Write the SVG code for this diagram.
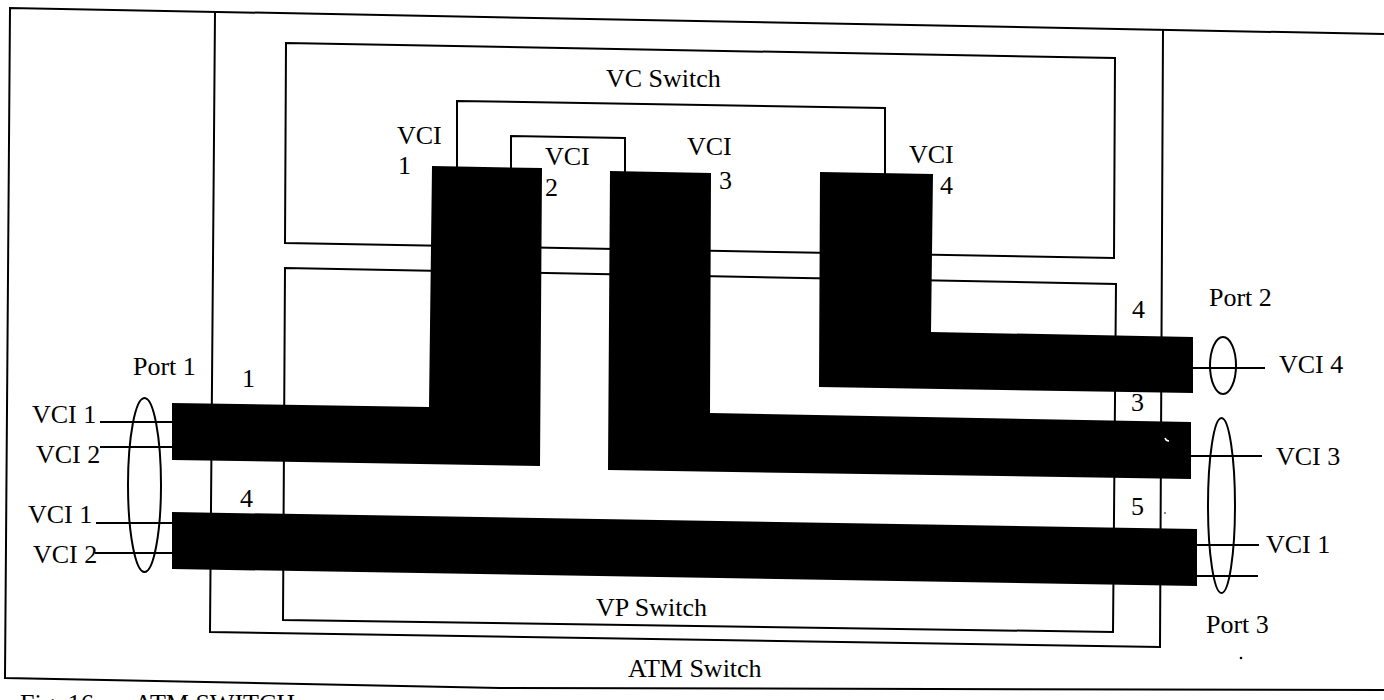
<svg xmlns="http://www.w3.org/2000/svg" width="1384" height="700" viewBox="0 0 1384 700">
<style>
.ln{fill:none;stroke:#000;stroke-width:2;stroke-linejoin:miter}
.bar{fill:#000;stroke:none}
.t{font-family:"Liberation Serif","Times New Roman",serif;font-size:26px;fill:#000}
</style>
<rect x="0" y="0" width="1384" height="700" fill="#fff"/>
<g id="outer-frame">
<polyline class="ln" points="1384,34 10,8 5,678 500,688 1384,690"/>
</g>
<g id="atm-switch">
<polyline class="ln" points="215,12 210,632 1160,647 1163,30"/>
<text class="t" x="628" y="677">ATM Switch</text>
</g>
<g id="vc-switch">
<polygon class="ln" points="286,43 1115,58 1114,258 285,243"/>
<text class="t" x="606" y="87">VC Switch</text>
</g>
<g id="vp-switch">
<polygon class="ln" points="285,268 1116,284 1113,632 283,620"/>
<text class="t" x="596" y="616">VP Switch</text>
</g>
<g id="connectors">
<polyline class="ln" points="457,168 457,101 885,108 885,174"/>
<polyline class="ln" points="511,168 511,136 625,138 625,172"/>
<polygon class="bar" points="432,166 542,168 540,466 172,460 172,403 429,407"/>
<polygon class="bar" points="610,171 711,173 710,413 1191,422 1191,479 608,470"/>
<polygon class="bar" points="820,172 933,174 931,332 1193,337 1193,393 819,387"/>
<polygon class="bar" points="172,512 1197,529 1197,586 172,569"/>
<path d="M1165,438 q1,3 4,3" fill="none" stroke="#fff" stroke-width="1.5"/>
<line class="ln" x1="100" y1="422" x2="172" y2="422"/>
<line class="ln" x1="100" y1="447" x2="172" y2="447"/>
<line class="ln" x1="96" y1="523" x2="172" y2="523"/>
<line class="ln" x1="95" y1="553" x2="172" y2="553"/>
<line class="ln" x1="1193" y1="368" x2="1265" y2="368"/>
<line class="ln" x1="1191" y1="456" x2="1262" y2="456"/>
<line class="ln" x1="1197" y1="545" x2="1259" y2="545"/>
<line class="ln" x1="1197" y1="576" x2="1258" y2="576"/>
</g>
<g id="port1">
<ellipse class="ln" cx="144.5" cy="485" rx="16.5" ry="87"/>
<text class="t" x="133" y="375">Port 1</text>
<text class="t" x="32" y="423">VCI 1</text>
<text class="t" x="36" y="463">VCI 2</text>
<text class="t" x="28" y="523">VCI 1</text>
<text class="t" x="33" y="563">VCI 2</text>
</g>
<g id="port2">
<ellipse class="ln" cx="1223" cy="365.5" rx="13" ry="28.5"/>
<text class="t" x="1209" y="306">Port 2</text>
<text class="t" x="1279" y="373">VCI 4</text>
</g>
<g id="port3">
<ellipse class="ln" cx="1221.5" cy="505.5" rx="13.5" ry="87.5"/>
<text class="t" x="1276" y="465">VCI 3</text>
<text class="t" x="1266" y="553">VCI 1</text>
<text class="t" x="1206" y="633">Port 3</text>
</g>
<g id="labels">
<text class="t" x="397" y="144">VCI</text>
<text class="t" x="398" y="174">1</text>
<text class="t" x="545" y="165">VCI</text>
<text class="t" x="545" y="196">2</text>
<text class="t" x="687" y="155">VCI</text>
<text class="t" x="719" y="189">3</text>
<text class="t" x="909" y="163">VCI</text>
<text class="t" x="940" y="194">4</text>
<text class="t" x="242" y="387">1</text>
<text class="t" x="240" y="507">4</text>
<text class="t" x="1132" y="318">4</text>
<text class="t" x="1131" y="411">3</text>
<text class="t" x="1131" y="515">5</text>
<circle cx="1241" cy="658" r="1.3" fill="#000"/>
<circle cx="1165" cy="513" r="0.8" fill="#000"/>
<text class="t" x="20" y="712">Fig. 16</text>
<text class="t" x="134" y="712">ATM SWITCH</text>
</g>
</svg>
